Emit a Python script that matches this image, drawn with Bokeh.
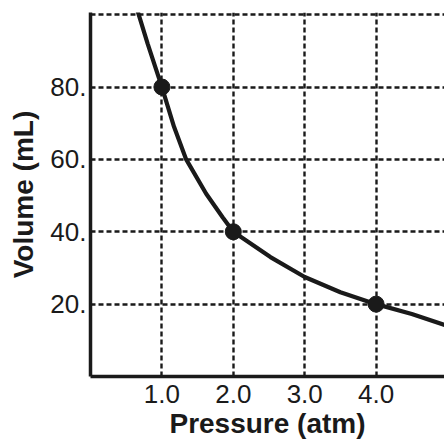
from bokeh.plotting import figure
from bokeh.models import Range1d, FixedTicker
from bokeh.embed import file_html
from bokeh.resources import INLINE

# ---- data ----
pressure_ticks = [1, 2, 3, 4]
pressure_tick_labels = ["1.0", "2.0", "3.0", "4.0"]
volume_ticks = [20, 40, 60, 80]
volume_tick_labels = ["20.", "40.", "60.", "80."]
volume_grid = [20, 40, 60, 80, 100]

curve_p = [0.66, 0.80, 1.0, 1.17, 1.34, 1.62, 1.85, 2.0, 2.52, 3.0, 3.5, 4.0, 4.5, 5.0]
curve_v = [101, 92, 80, 69, 60, 50.5, 44, 40, 33, 27.5, 23.3, 20, 17.3, 14.0]

point_p = [1.0, 2.0, 4.0]
point_v = [80, 40, 20]

x_label = "Pressure (atm)"
y_label = "Volume (mL)"

INK = "#1a1a1a"
FONT = "Liberation Sans"

p = figure(width=444, height=444, x_range=Range1d(0, 4.958), y_range=Range1d(0, 100.6),
           output_backend="svg", toolbar_location=None, title=None,
           min_border_left=90, min_border_right=0, min_border_top=12, min_border_bottom=68)
p.outline_line_color = None
p.background_fill_color = "white"
p.border_fill_color = "white"

# axes
p.xaxis.ticker = FixedTicker(ticks=pressure_ticks)
p.xaxis.major_label_overrides = dict(zip(pressure_ticks, pressure_tick_labels))
p.yaxis.ticker = FixedTicker(ticks=volume_ticks)
p.yaxis.major_label_overrides = dict(zip(volume_ticks, volume_tick_labels))
p.xaxis.axis_label = x_label
p.yaxis.axis_label = y_label
for ax in (p.xaxis, p.yaxis):
    ax.axis_line_color = INK
    ax.axis_line_width = 3.5
    ax.major_tick_out = 0
    ax.major_tick_in = 0
    ax.minor_tick_out = 0
    ax.minor_tick_in = 0
    ax.major_label_text_font = FONT
    ax.major_label_text_font_size = "26px"
    ax.major_label_text_color = INK
    ax.axis_label_text_font = FONT
    ax.axis_label_text_font_size = "28px"
    ax.axis_label_text_font_style = "bold"
    ax.axis_label_text_color = INK
p.xaxis.major_label_standoff = 8
p.yaxis.major_label_standoff = 4
p.xaxis.axis_label_standoff = 2
p.yaxis.axis_label_standoff = 8

# grids
p.xgrid.ticker = FixedTicker(ticks=pressure_ticks)
p.ygrid.ticker = FixedTicker(ticks=volume_grid)
for g in (p.xgrid, p.ygrid):
    g.grid_line_color = INK
    g.grid_line_width = 2.4
    g.grid_line_dash = "5 3"

# curve and points
p.line(curve_p, curve_v, line_color=INK, line_width=4.2)
p.scatter(point_p, point_v, size=16, fill_color=INK, line_color=INK)

open("out.html", "w").write(file_html(p, INLINE))
